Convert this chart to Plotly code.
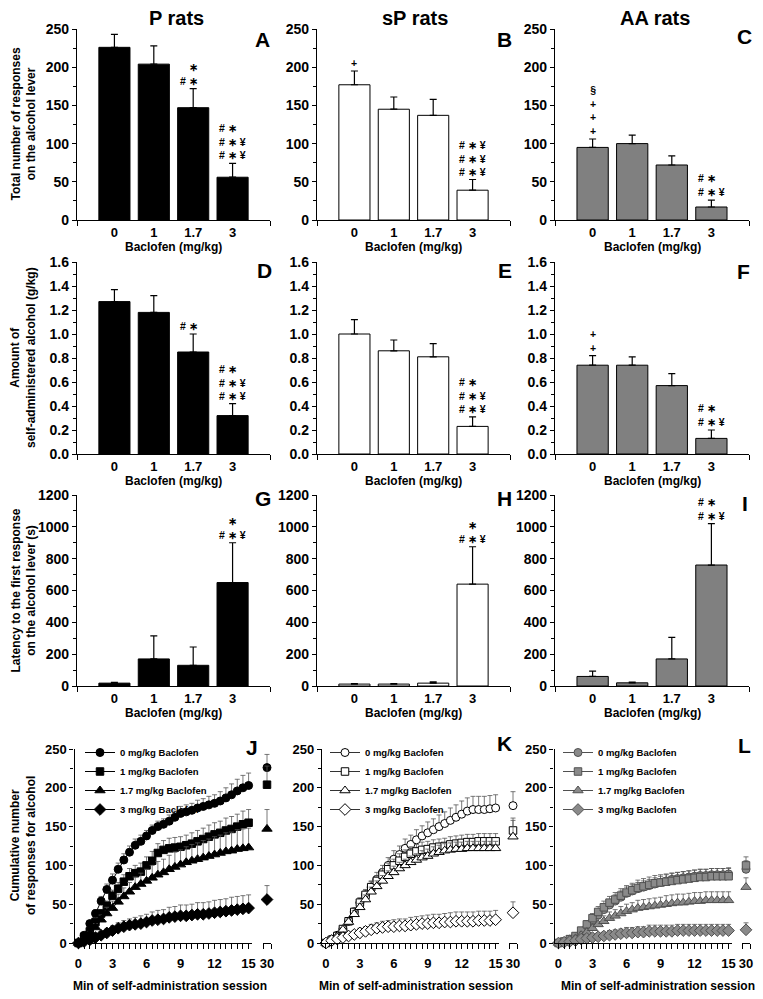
import plotly.graph_objects as go

W, H = 763, 999
def fx(p): return p / W
def fy(p): return 1 - p / H

# ---------------- data ----------------
doses = ["0", "1", "1.7", "3"]
dose_pos = [0, 1, 2, 3]

# Row 1: total responses on alcohol lever
P_resp = [226, 204, 147, 56]
P_resp_sem = [17, 24, 25, 18]
sP_resp = [177, 145, 137, 39]
sP_resp_sem = [18, 16, 21, 14]
AA_resp = [95, 100, 72, 17]
AA_resp_sem = [11, 11, 12, 9]

# Row 2: amount of self-administered alcohol (g/kg)
P_amt = [1.27, 1.18, 0.85, 0.32]
P_amt_sem = [0.10, 0.14, 0.15, 0.10]
sP_amt = [1.00, 0.86, 0.81, 0.23]
sP_amt_sem = [0.12, 0.09, 0.11, 0.08]
AA_amt = [0.74, 0.74, 0.57, 0.13]
AA_amt_sem = [0.08, 0.07, 0.10, 0.07]

# Row 3: latency to first response (s)
P_lat = [18, 170, 130, 650]
P_lat_sem = [5, 145, 115, 250]
sP_lat = [12, 12, 18, 640]
sP_lat_sem = [3, 3, 8, 235]
AA_lat = [60, 20, 170, 760]
AA_lat_sem = [33, 5, 135, 260]

# Row 4: cumulative responses over session (min)
time_min = [0, 0.5, 1, 1.5, 2, 2.5, 3, 3.5, 4, 4.5, 5, 5.5, 6, 6.5, 7, 7.5,
            8, 8.5, 9, 9.5, 10, 10.5, 11, 11.5, 12, 12.5, 13, 13.5, 14, 14.5, 15]
end_min = [30]
legend_names = ["0 mg/kg Baclofen", "1 mg/kg Baclofen", "1.7 mg/kg Baclofen", "3 mg/kg Baclofen"]

P_cum_0 = [0, 10, 25, 38, 54, 69, 81, 95, 107, 117, 126, 131, 138, 145, 150, 153,
           157, 162, 167, 169, 171, 174, 176, 178, 180, 183, 187, 191, 196, 200, 203]
P_cum_0_sem = [0, 2, 4, 5, 6, 7, 8, 8, 8, 8, 8, 8, 7, 7, 7, 7,
               8, 8, 9, 9, 9, 10, 10, 11, 11, 12, 13, 14, 15, 16, 16]
P_cum_1 = [0, 8, 15, 27, 38, 48, 61, 70, 79, 86, 90, 92, 100, 106, 116, 120,
           122, 123, 124, 126, 128, 131, 134, 137, 140, 142, 145, 147, 150, 153, 155]
P_cum_1_sem = [0, 2, 3, 4, 5, 6, 7, 8, 9, 10, 10, 11, 11, 12, 12, 12,
               13, 13, 13, 13, 14, 14, 14, 15, 15, 15, 16, 16, 16, 17, 17]
P_cum_17 = [0, 5, 12, 20, 30, 38, 45, 53, 60, 66, 72, 76, 80, 84, 88, 91,
            95, 98, 101, 104, 106, 108, 110, 112, 114, 116, 118, 119, 121, 122, 123]
P_cum_17_sem = [0, 2, 3, 5, 6, 8, 9, 10, 11, 12, 13, 14, 15, 16, 17, 17,
                18, 19, 19, 20, 21, 21, 22, 22, 23, 23, 24, 24, 25, 25, 25]
P_cum_3 = [0, 2, 4, 7, 10, 13, 16, 19, 21, 23, 24, 25, 27, 29, 30, 31,
           33, 34, 35, 35, 36, 37, 37, 38, 39, 40, 41, 42, 43, 44, 45]
P_cum_3_sem = [0, 1, 2, 3, 4, 5, 6, 7, 8, 8, 9, 10, 10, 11, 12, 12,
               13, 13, 14, 14, 14, 15, 15, 15, 16, 16, 16, 17, 17, 17, 17]

sP_cum_0 = [0, 5, 10, 18, 28, 40, 52, 62, 72, 82, 91, 100, 108, 114, 122, 127,
            133, 138, 142, 146, 150, 154, 158, 162, 166, 170, 172, 172, 172, 173, 174]
sP_cum_0_sem = [0, 1, 2, 3, 4, 5, 6, 7, 8, 9, 9, 10, 11, 11, 12, 12,
                13, 13, 14, 14, 15, 15, 16, 16, 17, 17, 17, 17, 17, 17, 17]
sP_cum_1 = [0, 4, 9, 18, 28, 40, 52, 62, 72, 80, 88, 95, 100, 106, 111, 115,
            118, 120, 121, 123, 124, 125, 127, 128, 129, 130, 130, 131, 131, 131, 131]
sP_cum_1_sem = [0, 1, 2, 3, 4, 5, 6, 6, 7, 7, 8, 8, 8, 9, 9, 9,
                9, 10, 10, 10, 10, 10, 10, 10, 10, 10, 10, 10, 10, 10, 10]
sP_cum_17 = [0, 4, 9, 17, 27, 37, 46, 56, 66, 73, 80, 86, 91, 96, 100, 104,
             107, 110, 112, 115, 117, 119, 120, 121, 121, 122, 122, 122, 122, 122, 122]
sP_cum_17_sem = [0, 1, 2, 3, 4, 5, 5, 6, 6, 7, 7, 7, 8, 8, 8, 8,
                 8, 9, 9, 9, 9, 9, 9, 9, 9, 9, 9, 9, 9, 9, 9]
sP_cum_3 = [0, 3, 5, 7, 9, 11, 13, 15, 17, 19, 20, 21, 21, 22, 22, 23,
            24, 25, 25, 26, 26, 27, 27, 28, 28, 28, 28, 29, 29, 29, 30]
sP_cum_3_sem = [0, 1, 2, 3, 4, 5, 6, 6, 7, 7, 8, 8, 9, 9, 9, 10,
                10, 10, 11, 11, 11, 11, 12, 12, 12, 12, 12, 12, 12, 12, 12]

AA_cum_0 = [0, 2, 5, 8, 13, 20, 28, 36, 43, 49, 54, 59, 64, 67, 70, 72,
            74, 76, 78, 80, 82, 83, 84, 85, 86, 87, 87, 88, 88, 88, 89]
AA_cum_0_sem = [0, 1, 2, 3, 4, 5, 6, 6, 7, 7, 8, 8, 8, 8, 8, 8,
                8, 8, 8, 8, 8, 8, 8, 8, 8, 8, 8, 8, 8, 8, 8]
AA_cum_1 = [0, 2, 5, 9, 16, 24, 32, 40, 46, 52, 56, 61, 65, 68, 71, 73,
            75, 77, 78, 79, 80, 81, 82, 83, 84, 85, 85, 86, 86, 86, 86]
AA_cum_1_sem = [0, 1, 2, 3, 4, 5, 6, 7, 8, 8, 9, 9, 9, 9, 10, 10,
                10, 10, 10, 10, 10, 10, 10, 10, 10, 10, 10, 10, 10, 10, 10]
AA_cum_17 = [0, 1, 3, 6, 10, 14, 19, 24, 28, 32, 35, 38, 41, 43, 45, 46,
             47, 48, 49, 50, 51, 52, 52, 53, 54, 54, 55, 55, 55, 55, 55]
AA_cum_17_sem = [0, 1, 2, 3, 4, 5, 6, 7, 7, 8, 8, 9, 9, 9, 10, 10,
                 10, 10, 10, 11, 11, 11, 11, 11, 11, 11, 11, 11, 11, 11, 11]
AA_cum_3 = [0, 1, 2, 3, 5, 6, 7, 8, 9, 10, 11, 12, 13, 13, 14, 14,
            15, 15, 15, 15, 15, 16, 16, 16, 16, 16, 16, 16, 16, 16, 16]
AA_cum_3_sem = [0, 1, 2, 2, 3, 4, 4, 5, 5, 6, 6, 6, 7, 7, 7, 7,
                8, 8, 8, 8, 8, 8, 8, 8, 8, 8, 8, 8, 8, 8, 8]

# significance marks (top line first)
sig_A = {2: ["*", "#*"], 3: ["#*", "#*¥", "#*¥"]}
sig_B = {0: ["+"], 3: ["#*¥", "#*¥", "#*¥"]}
sig_C = {0: ["§", "+", "+", "+"], 3: ["#*", "#*¥"]}
sig_D = {2: ["#*"], 3: ["#*", "#*¥", "#*¥"]}
sig_E = {3: ["#*", "#*¥", "#*¥"]}
sig_F = {0: ["+", "+"], 3: ["#*", "#*¥"]}
sig_G = {3: ["*", "#*¥"]}
sig_H = {3: ["*", "#*¥"]}
sig_I = {3: ["#*", "#*¥"]}

# ---------------- layout geometry (pixels) ----------------
FONT = "Arial, Liberation Sans, sans-serif"
col_x = [(77, 270), (317, 510), (555, 749)]
row_y = [(29, 220), (262, 454), (495, 686)]
row4_y = (749, 943)
row4_x = [(74.5, 252), (322, 499), (554.5, 732)]
end_x = [(263, 271), (509, 517), (742, 750)]

fill_colors = ["black", "white", "#808080"]
bar_sets = [
    [(P_resp, P_resp_sem, sig_A), (sP_resp, sP_resp_sem, sig_B), (AA_resp, AA_resp_sem, sig_C)],
    [(P_amt, P_amt_sem, sig_D), (sP_amt, sP_amt_sem, sig_E), (AA_amt, AA_amt_sem, sig_F)],
    [(P_lat, P_lat_sem, sig_G), (sP_lat, sP_lat_sem, sig_H), (AA_lat, AA_lat_sem, sig_I)],
]
y_ranges = [[0, 250], [0, 1.6], [0, 1200]]
y_dticks = [50, 0.2, 200]
y_minor = [25, 0.1, 100]
y_fmt = ["d", ".1f", "d"]
y_titles = ["Total number of responses<br>on the alcohol lever",
            "Amount of<br>self-administered alcohol (g/kg)",
            "Latency to the first response<br>on the alcohol lever (s)"]

fig = go.Figure()
layout = dict(width=W, height=H, margin=dict(l=0, r=0, t=0, b=0, pad=0, autoexpand=False),
              paper_bgcolor="white", plot_bgcolor="white",
              font=dict(family=FONT, color="black", size=13, weight="bold"),
              showlegend=True)
annotations = []

TRANSP = "<span style='color:rgba(0,0,0,0)'>%s</span>"
def sig_line(s):
    if s in ("+", "§"):
        return s
    left = "#" if "#" in s else TRANSP % "#"
    right = "¥" if "¥" in s else TRANSP % "¥"
    return left + " ∗ " + right

k = 0
for r in range(3):
    for c in range(3):
        k += 1
        vals, sem, sig = bar_sets[r][c]
        xa, ya = f"x{k}", f"y{k}"
        fig.add_trace(go.Bar(
            x=dose_pos, y=vals, width=0.79,
            marker=dict(color=fill_colors[c], line=dict(color="black", width=1)),
            error_y=dict(type="data", array=sem, arrayminus=[0] * len(sem), symmetric=False,
                         color="black", thickness=1.2, width=3.5),
            xaxis=xa, yaxis=ya, showlegend=False))
        layout[f"xaxis{k}"] = dict(
            domain=[fx(col_x[c][0]), fx(col_x[c][1])], range=[-0.95, 3.95], anchor=ya,
            tickmode="array", tickvals=dose_pos, ticktext=doses, ticks="", ticklen=0,
            showline=True, linecolor="black", linewidth=1.3, showgrid=False, zeroline=False,
            tickfont=dict(size=13), ticklabelstandoff=0, automargin=False,
            minor=dict(tickmode="array", tickvals=[-0.95, 3.95], ticks="outside",
                       ticklen=5, tickwidth=1.3, tickcolor="black"))
        layout[f"yaxis{k}"] = dict(
            domain=[fy(row_y[r][1]), fy(row_y[r][0])], range=y_ranges[r], anchor=xa,
            dtick=y_dticks[r], tick0=0, tickformat=y_fmt[r], ticks="outside", ticklen=4,
            tickwidth=1.3, tickcolor="black", showline=True, linecolor="black", linewidth=1.3,
            showgrid=False, zeroline=False, tickfont=dict(size=14), automargin=False,
            minor=dict(dtick=y_minor[r], tick0=0, ticks="outside", ticklen=3,
                       tickwidth=1, tickcolor="black"))
        annotations.append(dict(text="Baclofen (mg/kg)", xref="paper", yref="paper",
                                x=fx((col_x[c][0] + col_x[c][1]) / 2), y=fy(row_y[r][1] + 27),
                                showarrow=False, font=dict(size=12), xanchor="center", yanchor="middle"))
        for idx, lines in sig.items():
            annotations.append(dict(text="<br>".join(sig_line(s) for s in lines),
                                    x=dose_pos[idx], y=vals[idx] + sem[idx],
                                    xref=xa, yref=ya, showarrow=False, xanchor="center",
                                    yanchor="bottom", yshift=0, align="center",
                                    font=dict(size=10.5)))
    annotations.append(dict(text=y_titles[r], textangle=-90, xref="paper", yref="paper",
                            x=fx(23), y=fy((row_y[r][0] + row_y[r][1]) / 2), showarrow=False,
                            font=dict(size=12), xanchor="center", yanchor="middle"))

# ---------------- row 4: cumulative curves ----------------
cum_sets = [
    ([P_cum_0, P_cum_1, P_cum_17, P_cum_3], [P_cum_0_sem, P_cum_1_sem, P_cum_17_sem, P_cum_3_sem], P_resp, P_resp_sem),
    ([sP_cum_0, sP_cum_1, sP_cum_17, sP_cum_3], [sP_cum_0_sem, sP_cum_1_sem, sP_cum_17_sem, sP_cum_3_sem], sP_resp, sP_resp_sem),
    ([AA_cum_0, AA_cum_1, AA_cum_17, AA_cum_3], [AA_cum_0_sem, AA_cum_1_sem, AA_cum_17_sem, AA_cum_3_sem], AA_resp, AA_resp_sem),
]
symbols = ["circle", "square", "triangle-up", "diamond"]
sizes = [8, 7.5, 9, 9]
mk_fill = ["black", "white", "#8a8a8a"]
mk_edge = ["black", "black", "#505050"]
ln_col = ["black", "#333333", "#505050"]
err_col = ["#555555", "#555555", "#555555"]
legend_keys = ["legend", "legend2", "legend3"]
legend_x = [80, 325, 558]

for c in range(3):
    series, sems, tot, tot_sem = cum_sets[c]
    km, ke = 10 + c, 13 + c
    xa, ya, xe = f"x{km}", f"y{km}", f"x{ke}"
    for s in range(4):
        fig.add_trace(go.Scatter(
            x=time_min, y=series[s], mode="lines+markers", name=legend_names[s],
            line=dict(color=ln_col[c], width=1),
            marker=dict(symbol=symbols[s], size=sizes[s], color=mk_fill[c],
                        line=dict(color=mk_edge[c], width=1)),
            error_y=dict(type="data", array=sems[s], arrayminus=[0] * len(sems[s]),
                         symmetric=False, color=err_col[c], thickness=0.8, width=2.5),
            xaxis=xa, yaxis=ya, legend=legend_keys[c], cliponaxis=False))
    for s in range(4):
        fig.add_trace(go.Scatter(
            x=end_min, y=[tot[s]], mode="markers",
            marker=dict(symbol=symbols[s], size=sizes[s], color=mk_fill[c],
                        line=dict(color=mk_edge[c], width=1)),
            error_y=dict(type="data", array=[tot_sem[s]], arrayminus=[0], symmetric=False,
                         color=err_col[c], thickness=0.8, width=2.5),
            xaxis=xe, yaxis=ya, showlegend=False, cliponaxis=False))
    layout[f"xaxis{km}"] = dict(
        domain=[fx(row4_x[c][0]), fx(row4_x[c][1])], range=[-0.35, 15.3], anchor=ya,
        tick0=0, dtick=3, ticks="outside", ticklen=5, tickwidth=1.3, tickcolor="black",
        showline=True, linecolor="black", linewidth=1.3, showgrid=False, zeroline=False,
        tickfont=dict(size=13), ticklabelstandoff=3, automargin=False,
        minor=dict(tick0=0, dtick=0.5, ticks="outside", ticklen=5, tickwidth=1.3, tickcolor="black"))
    layout[f"xaxis{ke}"] = dict(
        domain=[fx(end_x[c][0]), fx(end_x[c][1])], range=[29, 31], anchor=ya,
        tickmode="array", tickvals=[30], ticktext=["30"], ticks="", ticklen=0,
        showline=True, linecolor="black", linewidth=1.3, showgrid=False, zeroline=False,
        tickfont=dict(size=13), ticklabelstandoff=8, automargin=False,
        minor=dict(tickmode="array", tickvals=[29, 31], ticks="outside", ticklen=5,
                   tickwidth=1.3, tickcolor="black"))
    layout[f"yaxis{km}"] = dict(
        domain=[fy(row4_y[1]), fy(row4_y[0])], range=[0, 250], anchor=xa,
        dtick=50, tick0=0, ticks="outside", ticklen=4, tickwidth=1.3, tickcolor="black",
        showline=True, linecolor="black", linewidth=1.3, showgrid=False, zeroline=False,
        tickfont=dict(size=13), automargin=False,
        minor=dict(dtick=25, tick0=0, ticks="outside", ticklen=3, tickwidth=1, tickcolor="black"))
    layout[legend_keys[c]] = dict(
        x=fx(legend_x[c]), y=fy(738), xanchor="left", yanchor="top", xref="paper", yref="paper",
        bgcolor="rgba(0,0,0,0)", font=dict(size=9.5, family=FONT, weight="bold"),
        itemwidth=30, tracegroupgap=0)
    annotations.append(dict(text="Min of self-administration session", xref="paper", yref="paper",
                            x=fx([170, 416, 658][c]), y=fy(986), showarrow=False,
                            font=dict(size=12), xanchor="center", yanchor="middle"))

annotations.append(dict(text="Cumulative number<br>of responses for alcohol", textangle=-90,
                        xref="paper", yref="paper", x=fx(23), y=fy(846), showarrow=False,
                        font=dict(size=12), xanchor="center", yanchor="middle"))

for t, xc in zip(["P rats", "sP rats", "AA rats"], [176, 415, 655]):
    annotations.append(dict(text=t, xref="paper", yref="paper", x=fx(xc), y=fy(18),
                            showarrow=False, font=dict(size=20), xanchor="center", yanchor="middle"))

letters = [("A", 262, 40), ("B", 505, 40), ("C", 744, 37),
           ("D", 264, 270), ("E", 505, 270), ("F", 743, 271),
           ("G", 263, 498), ("H", 505, 498), ("I", 745, 503),
           ("J", 252, 747), ("K", 505, 743), ("L", 744, 745)]
for t, xc, yc in letters:
    annotations.append(dict(text=t, xref="paper", yref="paper", x=fx(xc), y=fy(yc),
                            showarrow=False, font=dict(size=21), xanchor="center", yanchor="middle"))

layout["annotations"] = annotations
fig.update_layout(**layout)
# the page's default 8px body margin would shift the figure; remove it
fig.write_html("out.html", config={"displayModeBar": False},
               post_script="document.body.style.margin='0px';")
